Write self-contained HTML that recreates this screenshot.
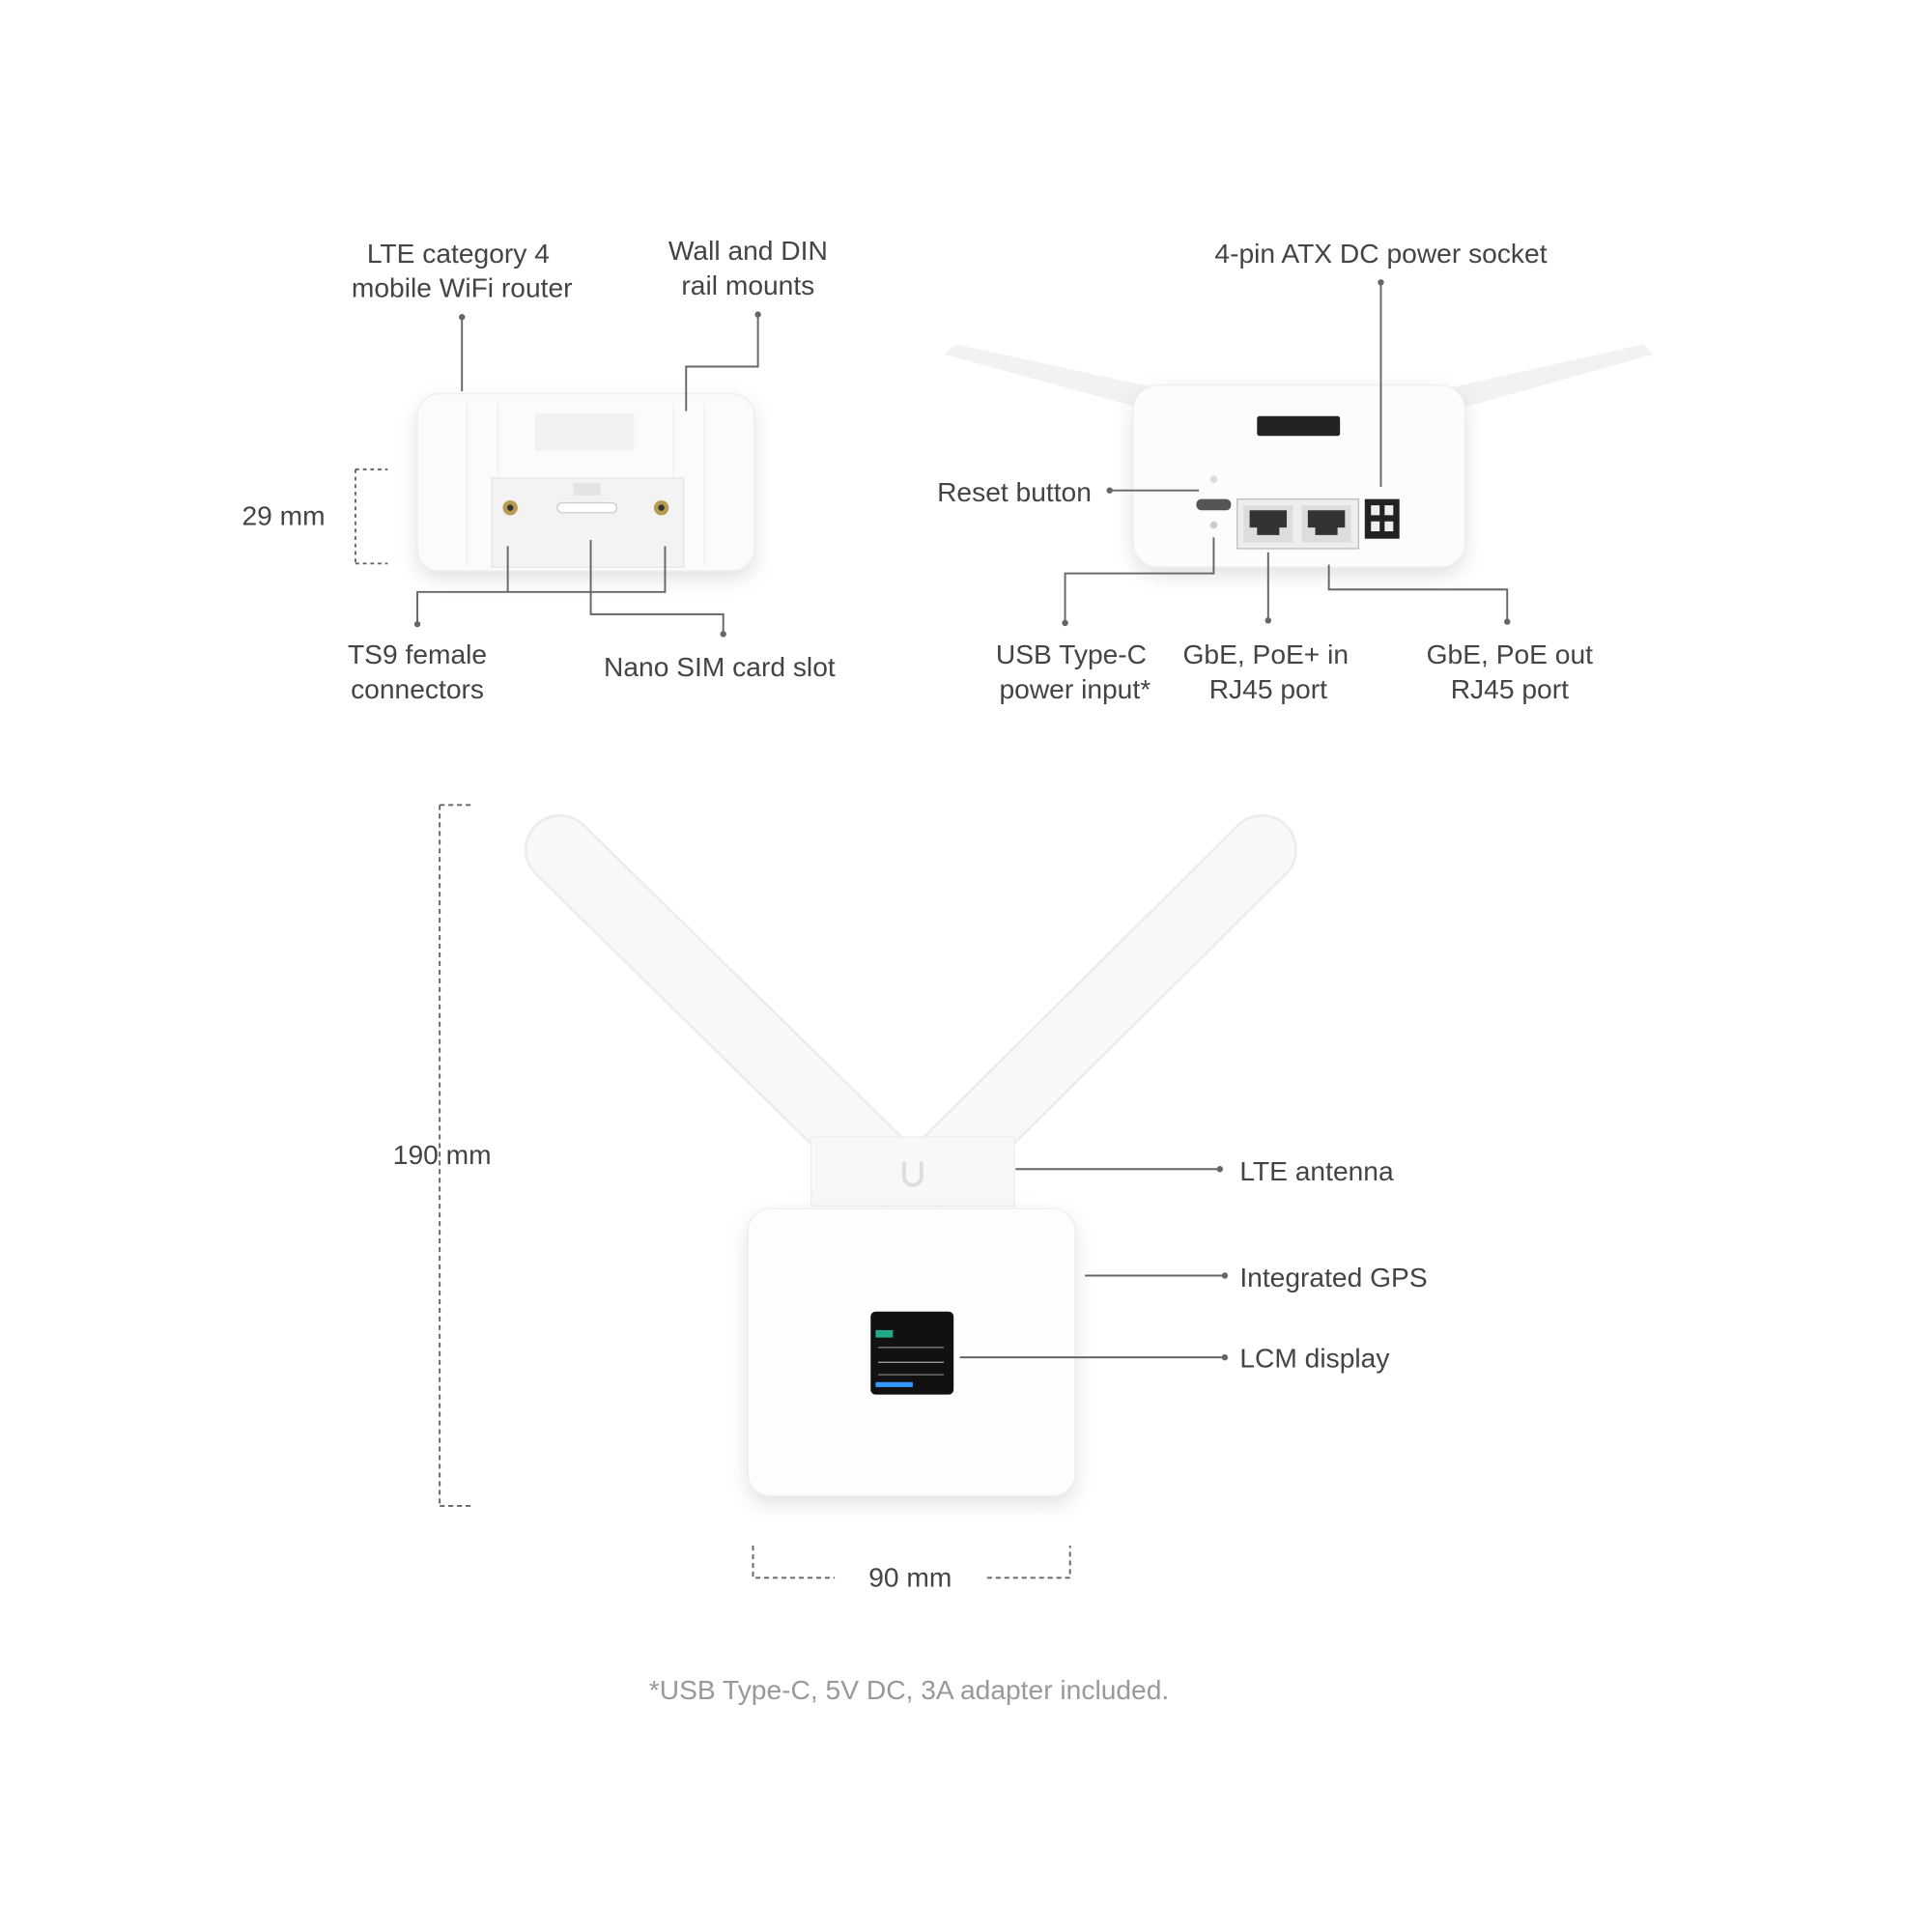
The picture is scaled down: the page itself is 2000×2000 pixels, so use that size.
<!DOCTYPE html>
<html><head><meta charset="utf-8"><style>
html,body{margin:0;padding:0;background:#fff;}
svg{display:block}
text{font-family:"Liberation Sans",sans-serif;fill:#444;font-size:22px}
</style></head><body>
<svg width="2000" height="2000" viewBox="0 0 1560 1560" xmlns="http://www.w3.org/2000/svg">
<defs>
<filter id="sh" x="-20%" y="-20%" width="140%" height="150%"><feDropShadow dx="0" dy="6" stdDeviation="8" flood-color="#000" flood-opacity="0.12"/></filter>
</defs>
<rect width="1560" height="1560" fill="#fff"/>
<g transform="translate(-3,-4)">
<!-- Left device -->
<rect x="340" y="322" width="272" height="143" rx="18" fill="#fbfbfb" filter="url(#sh)"/>
<rect x="340" y="322" width="272" height="143" rx="18" fill="none" stroke="#eee"/>
<rect x="435" y="338" width="80" height="30" fill="#f1f1f1"/>
<rect x="400" y="390" width="155" height="72" fill="#f3f3f3" stroke="#e6e6e6"/>
<line x1="380" y1="330" x2="380" y2="460" stroke="#eee"/>
<line x1="405" y1="330" x2="405" y2="390" stroke="#eee"/>
<line x1="547" y1="330" x2="547" y2="390" stroke="#eee"/>
<line x1="572" y1="330" x2="572" y2="460" stroke="#eee"/>
<circle cx="415" cy="414" r="6" fill="#b89a50"/><circle cx="415" cy="414" r="2.5" fill="#333"/>
<circle cx="537" cy="414" r="6" fill="#b89a50"/><circle cx="537" cy="414" r="2.5" fill="#333"/>
<rect x="453" y="410" width="48" height="8" rx="4" fill="#fff" stroke="#ccc"/>
<rect x="466" y="394" width="22" height="10" fill="#e4e4e4"/>

<!-- Right device antennas -->
<polygon points="765,290 775,282 940,318 930,335" fill="#f2f2f2"/>
<polygon points="1338,290 1330,282 1170,318 1178,335" fill="#f2f2f2"/>
<rect x="918" y="315" width="268" height="147" rx="20" fill="#fcfcfc" filter="url(#sh)"/>
<rect x="918" y="315" width="268" height="147" rx="20" fill="none" stroke="#eee"/>
<rect x="1018" y="340" width="67" height="16" rx="2" fill="#222"/>
<rect x="1002" y="407" width="98" height="40" fill="#eee" stroke="#bbb"/>
<rect x="1007" y="412" width="40" height="30" fill="#ddd"/><path d="M1012 416h30v14h-6v6h-18v-6h-6z" fill="#333"/>
<rect x="1054" y="412" width="40" height="30" fill="#ddd"/><path d="M1059 416h30v14h-6v6h-18v-6h-6z" fill="#333"/>
<rect x="1105" y="407" width="28" height="32" fill="#222"/>
<rect x="1110" y="412" width="7" height="8" fill="#eee"/><rect x="1121" y="412" width="7" height="8" fill="#eee"/>
<rect x="1110" y="425" width="7" height="8" fill="#eee"/><rect x="1121" y="425" width="7" height="8" fill="#eee"/>
<rect x="969" y="407" width="28" height="9" rx="4" fill="#555"/>
<circle cx="983" cy="391" r="3" fill="#ddd"/><circle cx="983" cy="428" r="3" fill="#ccc"/>

<!-- Big device -->
<line x1="455" y1="690" x2="720" y2="950" stroke="#ececec" stroke-width="57" stroke-linecap="round"/>
<line x1="1022" y1="690" x2="760" y2="950" stroke="#ececec" stroke-width="57" stroke-linecap="round"/>
<line x1="455" y1="690" x2="720" y2="950" stroke="#f8f8f8" stroke-width="53" stroke-linecap="round"/>
<line x1="1022" y1="690" x2="760" y2="950" stroke="#f8f8f8" stroke-width="53" stroke-linecap="round"/>
<rect x="658" y="922" width="164" height="56" fill="#f8f8f8" stroke="#eee"/>
<path d="M733 942v12a7 7 0 0 0 14 0v-12" fill="none" stroke="#ddd" stroke-width="3"/>
<rect x="607" y="980" width="264" height="232" rx="18" fill="#fdfdfd" filter="url(#sh)"/>
<rect x="607" y="980" width="264" height="232" rx="18" fill="none" stroke="#eee"/>
<rect x="706" y="1063" width="67" height="67" rx="4" fill="#111"/>
<rect x="710" y="1078" width="14" height="6" fill="#2a8"/><rect x="710" y="1120" width="30" height="4" fill="#39f"/>
<line x1="712" y1="1092" x2="765" y2="1092" stroke="#888"/><line x1="712" y1="1104" x2="765" y2="1104" stroke="#aaa"/>
<line x1="712" y1="1114" x2="765" y2="1114" stroke="#777"/>

<!-- leader lines -->
<g stroke="#666" stroke-width="1.5" fill="none">
<path d="M376 260v60"/><path d="M615 258v42h-58v36"/>
<path d="M290 383h26M290 459h26M290 383v76" stroke-dasharray="3 3"/>
<path d="M413 445v37h-73v26M540 445v37h-127M480 440v60h107v16"/>
<path d="M1118 232v165"/><path d="M899 400h72"/>
<path d="M983 438v29h-120v40M1027 450v55M1076 460v20h144v26"/>
<path d="M358 654h26M358 1220h26M358 654v566" stroke-dasharray="4 3"/>
<path d="M611 1252v26h66M800 1278h67v-26" stroke-dasharray="4 3"/>
<path d="M823 948h165M879 1034h113M778 1100h214"/>
</g>
<g fill="#666">
<circle cx="376" cy="260" r="2.5"/><circle cx="615" cy="258" r="2.5"/><circle cx="340" cy="508" r="2.5"/>
<circle cx="587" cy="516" r="2.5"/><circle cx="1118" cy="232" r="2.5"/><circle cx="899" cy="400" r="2.5"/>
<circle cx="863" cy="507" r="2.5"/><circle cx="1027" cy="505" r="2.5"/><circle cx="1220" cy="506" r="2.5"/>
<circle cx="988" cy="948" r="2.5"/><circle cx="992" cy="1034" r="2.5"/><circle cx="992" cy="1100" r="2.5"/>
</g>

<!-- labels -->
<g text-anchor="middle">
<text x="373" y="216">LTE category 4</text><text x="376" y="244">mobile WiFi router</text>
<text x="607" y="214">Wall and DIN</text><text x="607" y="242">rail mounts</text>
<text x="1118" y="216">4-pin ATX DC power socket</text>
<text x="232" y="428">29 mm</text>
<text x="340" y="540">TS9 female</text><text x="340" y="568">connectors</text>
<text x="584" y="550">Nano SIM card slot</text>
<text x="822" y="409">Reset button</text>
<text x="868" y="540">USB Type-C</text><text x="871" y="568">power input*</text>
<text x="1025" y="540">GbE, PoE+ in</text><text x="1027" y="568">RJ45 port</text>
<text x="1222" y="540">GbE, PoE out</text><text x="1222" y="568">RJ45 port</text>
<text x="360" y="944">190 mm</text>
<text x="738" y="1285">90 mm</text>
<text x="737" y="1376" style="fill:#999">*USB Type-C, 5V DC, 3A adapter included.</text>
</g>
<text x="1004" y="957">LTE antenna</text>
<text x="1004" y="1043">Integrated GPS</text>
<text x="1004" y="1108">LCM display</text>
</g>
</svg>
</body></html>
